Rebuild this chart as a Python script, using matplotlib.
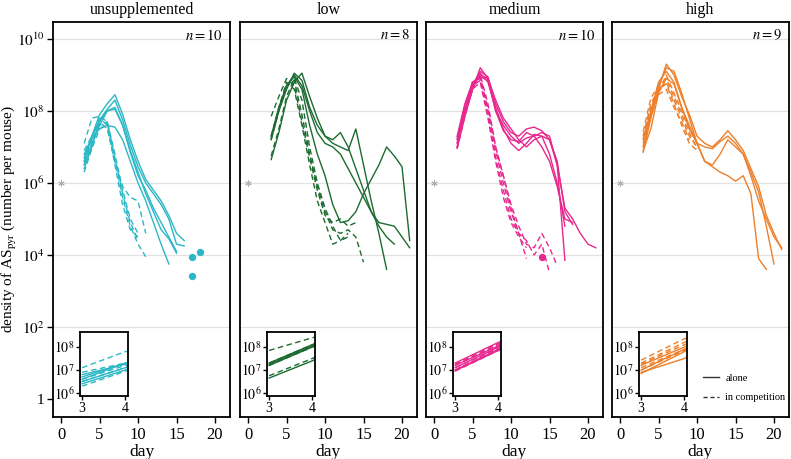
import matplotlib
matplotlib.use('Agg')
import matplotlib.pyplot as plt
from matplotlib.lines import Line2D
from matplotlib.ticker import NullLocator
import numpy as np

plt.rcParams['font.family'] = ['Liberation Serif', 'DejaVu Serif']
plt.rcParams['mathtext.fontset'] = 'stix'

# ---------------- data (log10 density, one value per day from FIRST_DAY) -------------
FIRST_DAY = 3
panel_titles = ["unsupplemented", "low", "medium", "high"]
n_labels = ["10", "8", "10", "9"]
colors = ["#2BB7C5", "#1C6B30", "#E8288E", "#EE7F2A"]

unsup_alone = [
    [6.6, 7.3, 7.9, 8.2, 8.45, 7.9, 7.2, 6.6, 6.1, 5.8, 5.5, 5.1, 4.6, 4.4],
    [6.7, 7.3, 7.75, 8.05, 8.3, 7.75, 7.05, 6.45, 6.0, 5.7, 5.4, 5.0, 4.3, 4.25],
    [6.5, 7.1, 7.6, 8.0, 8.05, 7.6, 6.85, 6.2, 5.8, 5.3, 4.9, 4.5, 4.1],
    [6.8, 7.25, 7.5, 7.6, 7.55, 7.2, 6.6, 6.0, 5.5, 4.9, 4.3, 3.75],
    [6.4, 7.0, 7.7, 8.0, 8.1, 7.6, 6.9, 6.3, 5.7, 5.2, 4.7, 4.45, 4.05],
]
unsup_comp = [
    [7.1, 7.8, 7.85, 7.7, 6.8, 5.8, 5.0, 4.6],
    [6.3, 6.95, 7.5, 7.65, 6.6, 5.6, 4.8, 4.3, 3.95],
    [6.9, 7.3, 7.7, 7.5, 6.6, 5.9, 5.6, 5.5, 4.6],
    [6.6, 7.2, 7.6, 7.7, 6.7, 5.7, 4.9, 4.4],
    [6.5, 7.1, 7.8, 7.6, 6.5, 5.4, 4.7, 4.5],
]
low_alone = [
    [6.65, 7.4, 8.3, 8.8, 9.05, 8.4, 7.8, 7.3, 7.1, 7.0, 6.9, 7.5, 6.5, 5.5, 4.6, 3.6],
    [7.2, 8.0, 8.6, 9.05, 8.85, 8.1, 7.6, 7.3, 7.2, 7.4, 7.0, 6.4, 5.8, 5.2, 4.9, 4.85, 4.8, 4.5, 4.2],
    [7.25, 8.05, 8.7, 8.95, 8.6, 7.6, 6.8, 6.2, 5.4, 4.9, 4.95, 5.2, 5.7, 6.1, 6.5, 7.0, 6.75, 6.45, 4.4],
    [7.3, 8.1, 8.7, 9.0, 8.7, 8.0, 7.4, 7.1, 7.0, 6.8, 6.4, 6.0, 5.6, 5.2, 4.8, 4.5, 4.3],
]
low_comp = [
    [7.2, 8.0, 8.7, 8.85, 7.9, 6.8, 5.9, 5.2, 4.7, 4.6, 4.7, 4.5, 3.8],
    [7.85, 8.4, 8.9, 8.7, 7.7, 6.7, 5.8, 5.1, 4.9, 5.0, 4.8, 4.9],
    [7.3, 8.1, 8.8, 8.6, 7.6, 6.5, 5.5, 4.9, 4.3, 4.4, 4.6],
    [6.75, 7.5, 8.4, 8.9, 8.3, 7.0, 6.0, 5.3, 4.8, 4.4, 4.5],
]
med_alone = [
    [6.97, 7.85, 8.6, 9.2, 8.9, 8.0, 7.6, 7.3, 7.1, 7.25, 7.3, 7.4, 7.3, 6.5, 5.3, 5.0, 4.6, 4.3, 4.2],
    [7.1, 8.0, 8.7, 9.1, 8.95, 8.2, 7.7, 7.4, 7.3, 7.5, 7.55, 7.45, 7.2, 6.6, 5.2, 4.85],
    [7.2, 8.05, 8.75, 9.0, 8.9, 8.3, 7.8, 7.5, 7.2, 7.0, 7.2, 7.3, 7.2, 6.5, 3.85],
    [7.0, 7.9, 8.6, 9.05, 8.8, 8.1, 7.5, 7.1, 6.9, 7.1, 7.35, 7.3, 6.8, 6.0, 4.8],
    [7.3, 8.2, 8.8, 8.95, 8.85, 8.0, 7.45, 7.2, 7.15, 7.4, 7.3, 7.0, 6.6, 5.9, 5.0, 4.9],
]
med_comp = [
    [7.0, 7.9, 8.7, 8.95, 8.0, 6.9, 6.0, 5.2, 4.6, 3.9],
    [7.2, 8.1, 8.8, 9.0, 8.2, 7.0, 6.2, 5.4, 4.8, 4.3, 4.2, 4.6, 4.2, 3.7],
    [7.1, 7.95, 8.7, 8.85, 7.9, 6.7, 5.8, 5.0, 4.6, 4.4, 4.0, 4.3, 3.5],
    [7.25, 8.15, 8.8, 8.9, 8.1, 7.0, 6.2, 5.3, 4.6],
    [6.95, 7.85, 8.6, 8.8, 7.8, 6.6, 5.6, 4.9, 4.5, 4.2],
]
high_alone = [
    [6.85, 7.8, 8.6, 9.3, 9.0, 8.4, 7.9, 7.3, 7.1, 7.0, 7.2, 7.45, 7.2, 6.9, 6.4, 5.9, 5.1, 4.6, 4.15],
    [7.0, 7.9, 8.7, 9.2, 9.1, 8.5, 7.8, 7.1, 6.6, 6.45, 6.3, 6.2, 6.05, 6.2, 5.7, 3.9, 3.6],
    [7.2, 8.0, 8.8, 9.1, 8.8, 8.1, 7.6, 7.1, 6.6, 6.5, 6.8, 7.2, 7.0, 6.8, 6.3, 5.75, 4.8, 3.75],
    [6.9, 7.5, 8.5, 8.9, 8.75, 8.1, 7.5, 7.1, 7.0, 6.95, 7.15, 7.3, 7.1, 6.8, 6.2, 5.5, 5.0, 4.5, 4.2],
]
high_comp = [
    [7.43, 8.36, 8.7, 8.9, 8.4, 7.9, 7.4, 6.95],
    [7.3, 8.2, 8.6, 8.75, 8.2, 7.6, 7.1, 6.9],
    [7.1, 7.9, 8.5, 9.0, 8.5, 8.0, 7.5, 7.1],
    [7.0, 7.85, 8.45, 8.6, 8.1, 7.7, 7.2],
    [7.25, 8.1, 8.6, 8.8, 8.3, 7.8, 7.3, 7.0],
]
alone = [unsup_alone, low_alone, med_alone, high_alone]
comp = [unsup_comp, low_comp, med_comp, high_comp]
point_days = [[17, 17, 18], [], [14], []]
point_vals = [[3.95, 3.42, 4.08], [], [3.95], []]

main_yticks = [0, 2, 4, 6, 8, 10]
main_xticks = [0, 5, 10, 15, 20]
inset_yticks = [6, 7, 8]
inset_xticks = [3, 4]

# ---------------- figure ----------------
W, H = 791, 459
fig = plt.figure(figsize=(W / 100, H / 100), dpi=100)
lefts = [53, 240, 426, 612]
aw = 177
top, bottom = 22, 417
dash = (0, (4, 2.5))


def ylab(e):
    return '1' if e == 0 else r'$10^{%d}$' % e


for i in range(4):
    l = lefts[i]
    c = colors[i]
    ax = fig.add_axes([l / W, 1 - bottom / H, aw / W, (bottom - top) / H])
    ax.set_yscale('log')
    ax.set_xlim(-1.05, 21.95)
    ax.set_ylim(10 ** -0.5, 10 ** 10.47)
    for e in main_yticks[1:]:
        ax.axhline(10.0 ** e, color='#E2E2E2', lw=0.9, zorder=0)
    for s in alone[i]:
        d = np.arange(FIRST_DAY, FIRST_DAY + len(s))
        ax.plot(d, 10 ** np.array(s), color=c, lw=1.0)
    for s in comp[i]:
        d = np.arange(FIRST_DAY, FIRST_DAY + len(s))
        ax.plot(d, 10 ** np.array(s), color=c, lw=1.0, ls=dash)
    if point_days[i]:
        ax.scatter(point_days[i], 10 ** np.array(point_vals[i]), s=28, color=c, zorder=3, linewidths=0)
    ax.plot([0], [1e6], marker=(6, 2, 0), ms=4.5, color='#B0B0B0', mew=0.7, ls='none')

    ax.set_xticks(main_xticks)
    ax.set_xticklabels([str(v) for v in main_xticks], fontsize=12)
    ax.yaxis.set_minor_locator(NullLocator())
    ax.set_yticks([10.0 ** e for e in main_yticks])
    if i == 0:
        ax.set_yticklabels([ylab(e) for e in main_yticks], fontsize=11)
        ax.tick_params(axis='y', length=4, width=1, pad=2)
        ax.set_ylabel(r'density of AS$_{\mathrm{pyr}}$ (number per mouse)', fontsize=11)
        ax.yaxis.set_label_coords((19 - l) / aw, 0.5)
    else:
        ax.set_yticklabels([])
        ax.tick_params(axis='y', length=0)
    ax.tick_params(axis='x', length=4, width=1, pad=3)
    for sp in ax.spines.values():
        sp.set_linewidth(1.3)
    ax.set_title(panel_titles[i], fontsize=11.5, pad=6)
    ax.set_xlabel('day', fontsize=12.5, labelpad=1)
    ax.text(0.96, 0.985, r'$n = %s$' % n_labels[i], transform=ax.transAxes,
            ha='right', va='top', fontsize=10.5)

    # inset
    ia = fig.add_axes([(l + 27) / W, 1 - 396 / H, 48 / W, 64 / H])
    ia.set_yscale('log')
    for s in alone[i]:
        d = np.arange(FIRST_DAY, FIRST_DAY + len(s))
        ia.plot(d, 10 ** np.array(s), color=c, lw=1.0)
    for s in comp[i]:
        d = np.arange(FIRST_DAY, FIRST_DAY + len(s))
        ia.plot(d, 10 ** np.array(s), color=c, lw=1.0, ls=dash)
    ia.set_xlim(2.95, 4.06)
    ia.set_ylim(10 ** 5.87, 10 ** 8.65)
    ia.yaxis.set_minor_locator(NullLocator())
    ia.set_yticks([10.0 ** e for e in inset_yticks])
    ia.set_yticklabels([ylab(e) for e in inset_yticks], fontsize=10)
    ia.set_xticks(inset_xticks)
    ia.set_xticklabels([str(v) for v in inset_xticks], fontsize=10)
    ia.tick_params(length=3, width=1, pad=1)
    for sp in ia.spines.values():
        sp.set_linewidth(1.3)
    ia.set_facecolor('white')

handles = [Line2D([], [], color='#333333', lw=1.0),
           Line2D([], [], color='#333333', lw=1.0, ls=(0, (3, 2)))]
fig.legend(handles, ['alone', 'in competition'], loc='center left',
           bbox_to_anchor=(694 / W, 1 - 388 / H), frameon=False, fontsize=7.5,
           handlelength=1.5, labelspacing=1.0, handletextpad=0.6)

fig.savefig('out.png', dpi=100)
